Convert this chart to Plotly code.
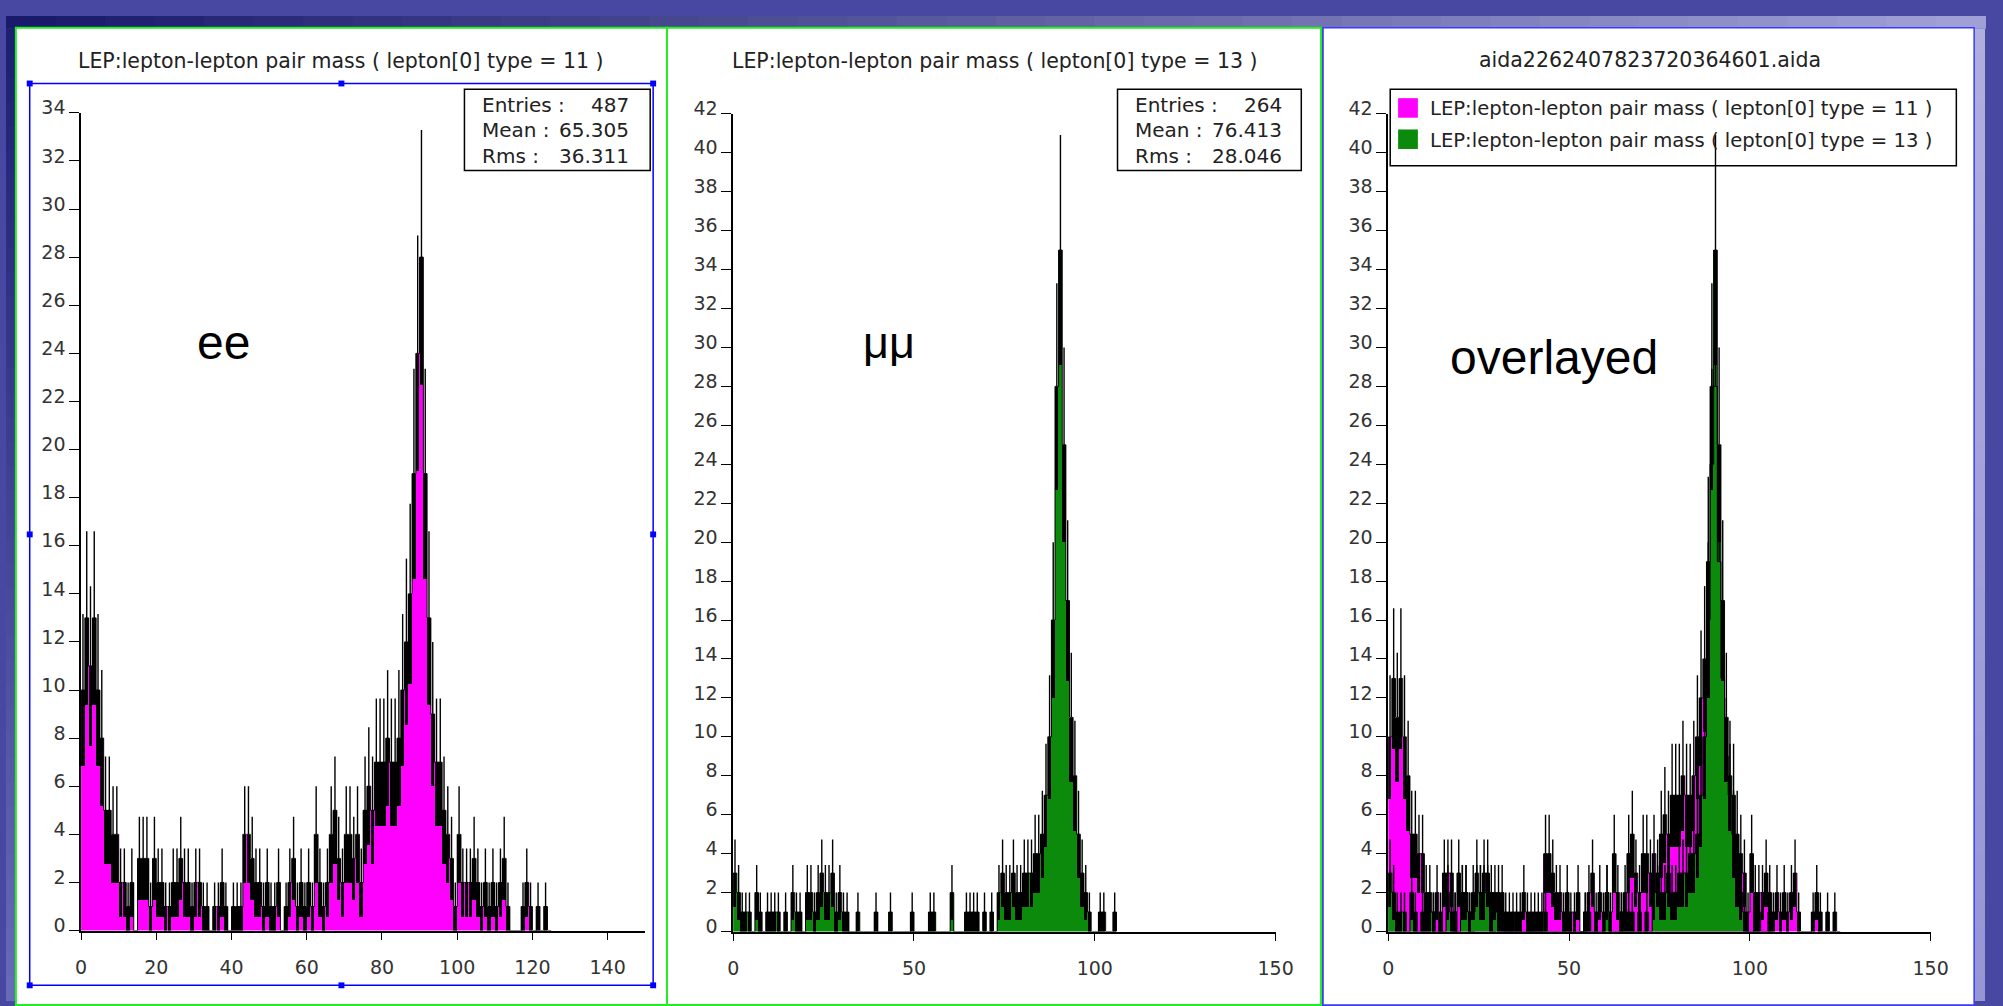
import math
import plotly.graph_objects as go

W, H = 2003, 1006

# Entries per 1 GeV bin, first bin starting at 0 GeV
ee_counts = [
    10, 13, 11, 13, 10, 8, 5, 5, 4, 4, 2, 2,
    1, 2, 0, 3, 3, 3, 1, 3, 2, 2, 1, 1,
    2, 2, 3, 2, 2, 1, 2, 2, 1, 1, 0, 1,
    1, 2, 1, 0, 1, 1, 1, 4, 4, 3, 2, 2,
    1, 2, 1, 1, 2, 0, 1, 2, 3, 1, 2, 1,
    2, 1, 4, 2, 1, 2, 4, 5, 3, 2, 4, 4,
    3, 4, 2, 5, 6, 5, 7, 7, 7, 8, 7, 7,
    8, 10, 12, 14, 19, 24, 28, 19, 13, 9, 7, 7,
    5, 4, 3, 1, 4, 2, 2, 2, 3, 2, 1, 2,
    1, 2, 1, 2, 3, 1, 0, 0, 0, 1, 2, 1,
    0, 1, 0, 1, 0,
]
mumu_counts = [
    3, 2, 1, 1, 1, 0, 2, 1, 0, 1, 1, 1,
    1, 0, 1, 0, 2, 1, 1, 0, 2, 2, 1, 2,
    3, 2, 2, 3, 1, 2, 1, 1, 0, 0, 1, 0,
    0, 0, 0, 1, 0, 0, 0, 1, 0, 0, 0, 0,
    0, 1, 0, 0, 0, 0, 1, 1, 0, 0, 0, 0,
    2, 0, 0, 0, 1, 1, 1, 1, 0, 1, 0, 1,
    0, 2, 3, 2, 2, 3, 2, 2, 3, 3, 3, 4,
    4, 5, 7, 10, 16, 28, 35, 25, 17, 11, 8, 5,
    3, 2, 1, 0, 0, 1, 1, 0, 0, 1,
]
BIN_LO = 0.0
BIN_W = 1.0

ee_name = "LEP:lepton-lepton pair mass ( lepton[0] type = 11 )"
mumu_name = "LEP:lepton-lepton pair mass ( lepton[0] type = 13 )"
overlay_name = "aida2262407823720364601.aida"

stat_labels = ["Entries :", "Mean :", "Rms :"]
ee_stats = ["487", "65.305", "36.311"]
mumu_stats = ["264", "76.413", "28.046"]

ee_xticks = [0, 20, 40, 60, 80, 100, 120, 140]
wide_xticks = [0, 50, 100, 150]
ee_yticks = list(range(0, 35, 2))
wide_yticks = list(range(0, 43, 2))

panel_labels = ["ee", "\u03bc\u03bc", "overlayed"]

EE_FILL = "#ff00ff"
MM_FILL = "#0b8a0b"
FONT = "DejaVu Sans"
TXT = "#222222"


def fx(px):
    return px / W


def fy(py):
    return 1 - py / H


# plot-area boxes in pixels: left, right, top, bottom
areas = [
    (76, 647, 99, 935),
    (736, 1285, 100, 936),
    (1399, 1948, 100, 936),
]
y_tops = [34, 42, 42]
x_ticks = [ee_xticks, wide_xticks, wide_xticks]
y_ticks = [ee_yticks, wide_yticks, wide_yticks]


def hist_traces(counts, fill, xa, ya):
    """Filled bins, step outline, a black band from N-sqrt(N) up to N and a thin bar up to N+sqrt(N)."""
    n_bins = len(counts)
    centers = [BIN_LO + (i + 0.5) * BIN_W for i in range(n_bins)]
    edges = [BIN_LO + i * BIN_W for i in range(n_bins + 1)]
    err = [math.sqrt(n) for n in counts]
    common = dict(xaxis=xa, yaxis=ya, hoverinfo="skip", showlegend=False)
    out = [
        go.Bar(x=centers, y=counts, width=BIN_W,
               marker=dict(color=fill, line=dict(width=0)), **common),
        go.Scatter(x=edges + [edges[-1]], y=list(counts) + [counts[-1], 0],
                   mode="lines", line=dict(color="black", width=1, shape="hv"), **common),
        go.Bar(x=centers, y=err, base=[n - e for n, e in zip(counts, err)],
               width=0.92 * BIN_W, marker=dict(color="black", line=dict(width=0)), **common),
    ]
    lx, ly = [], []
    for c, n, e in zip(centers, counts, err):
        if n > 0:
            lx += [c, c, None]
            ly += [n, n + e, None]
    out.append(go.Scatter(x=lx, y=ly, mode="lines",
                          line=dict(color="black", width=1.4), **common))
    return out


fig = go.Figure()
for t in hist_traces(ee_counts, EE_FILL, "x", "y"):
    fig.add_trace(t)
for t in hist_traces(mumu_counts, MM_FILL, "x2", "y2"):
    fig.add_trace(t)
for t in hist_traces(ee_counts, EE_FILL, "x3", "y3"):
    fig.add_trace(t)
for t in hist_traces(mumu_counts, MM_FILL, "x3", "y3"):
    fig.add_trace(t)

tickfont = dict(family=FONT, size=19, color="#333333")
layout_axes = {}
for i, (l, r, t, b) in enumerate(areas):
    n = i + 1
    sfx = "" if n == 1 else str(n)
    on = n + 3
    xd = [fx(l), fx(r)]
    yd = [fy(b), fy(t)]
    layout_axes["xaxis" + sfx] = dict(
        domain=xd, range=[0, 150], anchor="y" + sfx, tickvals=x_ticks[i],
        ticks="outside", ticklen=8, tickwidth=1, tickcolor="black",
        showline=True, linecolor="black", linewidth=1.5, showgrid=False,
        zeroline=False, tickfont=tickfont, ticklabelstandoff=11, fixedrange=True)
    layout_axes["yaxis" + sfx] = dict(
        domain=yd, range=[0, y_tops[i]], anchor="x" + sfx, tickvals=y_ticks[i],
        ticks="outside", ticklen=10, tickwidth=1, tickcolor="black",
        showline=True, linecolor="black", linewidth=1.5, showgrid=False,
        zeroline=False, tickfont=tickfont, ticklabelshift=-5, fixedrange=True)
    # second set of axes carrying the inward half of each tick
    layout_axes["xaxis%d" % on] = dict(
        overlaying="x" + sfx, anchor="y" + sfx, range=[0, 150], tickvals=x_ticks[i],
        ticks="inside", ticklen=8, tickwidth=1, tickcolor="black",
        showticklabels=False, showline=False, showgrid=False, zeroline=False,
        fixedrange=True)
    layout_axes["yaxis%d" % on] = dict(
        overlaying="y" + sfx, anchor="x" + sfx, side="left", range=[0, y_tops[i]],
        tickvals=y_ticks[i], ticks="inside", ticklen=10, tickwidth=1,
        tickcolor="black", showticklabels=False, showline=False, showgrid=False,
        zeroline=False, fixedrange=True)

shapes = []


def rect(x0, y0, x1, y1, fill=None, line=None, width=0, layer="below"):
    d = dict(type="rect", xref="paper", yref="paper",
             x0=fx(x0), x1=fx(x1), y0=fy(y1), y1=fy(y0), layer=layer,
             line=dict(width=width, color=line or "rgba(0,0,0,0)"))
    d["fillcolor"] = fill or "rgba(0,0,0,0)"
    shapes.append(d)


def mix(c0, c1, f):
    return "rgb(%d,%d,%d)" % tuple(round(a + (b - a) * f) for a, b in zip(c0, c1))


# slide background strips
N = 40
for k in range(N):
    rect(W * k / N, 0, W * (k + 1) / N + 1, 13, fill=mix((26, 26, 108), (160, 160, 214), k / (N - 1)))
for k in range(N):
    y0 = 13 + (H - 13) * k / N
    y1 = 13 + (H - 13) * (k + 1) / N + 1
    rect(0, y0, 10, y1, fill=mix((30, 30, 115), (105, 105, 185), k / (N - 1)))
    rect(1992, y0, W, y1, fill=mix((175, 175, 222), (150, 150, 212), k / (N - 1)))

# white panels with their frames
rect(10, 12, 669, H + 5, fill="white", line="#22ee22", width=2)
rect(669, 12, 1331, H + 5, fill="white", line="#22ee22", width=2)
rect(1333, 12, 1992, H + 5, fill="white", line="#3a3aff", width=1.5)

# selection frame around the first plot
rect(24, 69, 655, 991, line="#0000ff", width=1.5)
for hx in (24, 339.5, 655):
    for hy in (69, 530, 991):
        if hx == 339.5 and hy == 530:
            continue
        rect(hx - 3, hy - 3, hx + 3, hy + 3, fill="#0000ff", layer="above")

# statistics boxes and legend frame
rect(464, 75, 652, 158, fill="white", line="black", width=1.5, layer="above")
rect(1125, 75, 1311, 158, fill="white", line="black", width=1.5, layer="above")
rect(1401, 75, 1974, 153, line="black", width=1.5)
rect(1409, 84, 1429, 104, fill=EE_FILL, layer="above")
rect(1409, 116, 1429, 136, fill=MM_FILL, layer="above")

ann = []


def text(s, x, y, size=20, anchor="center", family=FONT, color=TXT):
    ann.append(dict(text=s, x=fx(x), y=fy(y), xref="paper", yref="paper",
                    xanchor=anchor, yanchor="middle", showarrow=False,
                    font=dict(family=family, size=size, color=color)))


text(ee_name, 339, 46, size=20.5)
text(mumu_name, 1001, 46, size=20.5)
text(overlay_name, 1664, 45, size=20.5)

for row, (lab, v1, v2) in enumerate(zip(stat_labels, ee_stats, mumu_stats)):
    yy = 91 + row * 26
    text(lab, 480, yy, anchor="left")
    text(v1, 633, yy, anchor="right")
    text(lab, 1141, yy, anchor="left")
    text(v2, 1294, yy, anchor="right")

text(ee_name, 1439, 95, size=19.6, anchor="left")
text(mumu_name, 1439, 127, size=19.6, anchor="left")

text(panel_labels[0], 220, 334, size=48, family="Liberation Sans", color="black")
text(panel_labels[1], 894, 334, size=45, family="Liberation Sans", color="black")
text(panel_labels[2], 1567, 349, size=48, family="Liberation Sans", color="black")

fig.update_layout(
    width=W, height=H, margin=dict(l=0, r=0, t=0, b=0),
    paper_bgcolor="#4848a2", plot_bgcolor="rgba(0,0,0,0)",
    barmode="overlay", bargap=0, showlegend=False,
    shapes=shapes, annotations=ann, **layout_axes,
)

fig.write_html("out.html")
